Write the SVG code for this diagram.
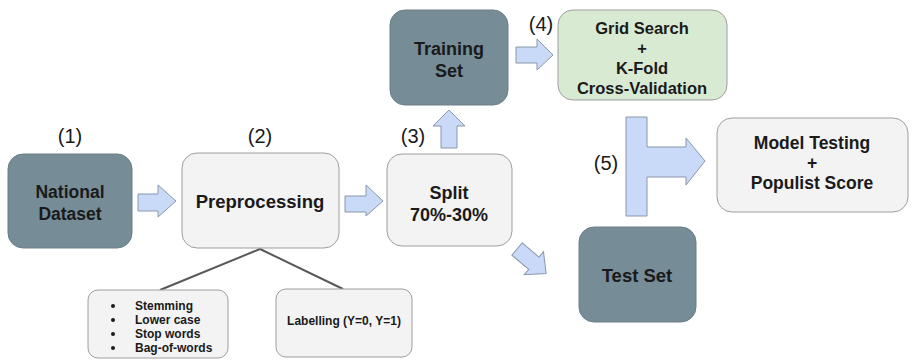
<svg xmlns="http://www.w3.org/2000/svg" width="912" height="364" viewBox="0 0 912 364">
<style>
.dark{fill:#768c97;stroke:#6a7e88;stroke-width:1}
.light{fill:#f3f3f3;stroke:#9e9e9e;stroke-width:1}
.green{fill:#d9ead3;stroke:#9e9e9e;stroke-width:1}
.arr{fill:#c9daf8;stroke:#8a96aa;stroke-width:1}
.t{font-family:"Liberation Sans",Arial,sans-serif;font-weight:bold;fill:#1a1a1a;text-anchor:middle}
.n{font-family:"Liberation Sans",Arial,sans-serif;fill:#1a1a1a;text-anchor:middle;font-size:20px}
.s{font-family:"Liberation Sans",Arial,sans-serif;font-weight:bold;fill:#1a1a1a;font-size:12px}
.ln{stroke:#595959;stroke-width:2;fill:none}
</style>
<rect width="912" height="364" fill="#ffffff"/>
<g id="connectors">
<path class="arr" d="M138,194 H158 V185 L176,201 L158,217 V211 H138 Z"/>
<path class="arr" d="M345,196 H366 V185 L383,201 L366,216 V212 H345 Z"/>
<path class="arr" d="M441,148 V126 H433 L449,110 L465,126 H457 V148 Z"/>
<path class="arr" d="M516,47 H537 V39 L553,55 L537,70 V63 H516 Z"/>
<path class="arr" d="M0,-8 H22 V-15 L38,0 L22,15 V8 H0 Z" transform="translate(517,249) rotate(40)"/>
<path class="arr" d="M626,117 H647 V147 H686 V138 L705,161 L686,185 V177 H647 V216 H626 Z"/>
<line class="ln" x1="260" y1="249" x2="160" y2="290"/>
<line class="ln" x1="260" y1="249" x2="343" y2="289"/>
</g>
<g id="label1"><text class="n" x="70" y="143">(1)</text></g>
<g id="label2"><text class="n" x="260" y="143">(2)</text></g>
<g id="label3"><text class="n" x="413" y="143">(3)</text></g>
<g id="label4"><text class="n" x="541" y="31">(4)</text></g>
<g id="label5"><text class="n" x="606" y="170">(5)</text></g>
<g id="national-dataset">
<rect class="dark" x="8" y="154" width="124" height="94" rx="15"/>
<text class="t" x="70" y="198" font-size="17.5">National</text>
<text class="t" x="70" y="220" font-size="17.5">Dataset</text>
</g>
<g id="preprocessing">
<rect class="light" x="182" y="153" width="157" height="95" rx="15"/>
<text class="t" x="260" y="208" font-size="18.5">Preprocessing</text>
</g>
<g id="split">
<rect class="light" x="387" y="154" width="125" height="92" rx="15"/>
<text class="t" x="449" y="199" font-size="18">Split</text>
<text class="t" x="449" y="221" font-size="18">70%-30%</text>
</g>
<g id="training-set">
<rect class="dark" x="390" y="10" width="118" height="95" rx="15"/>
<text class="t" x="449" y="55" font-size="18">Training</text>
<text class="t" x="449" y="77" font-size="18">Set</text>
</g>
<g id="grid-search">
<rect class="green" x="558" y="10" width="169" height="90" rx="15"/>
<text class="t" x="642" y="34" font-size="16.5">Grid Search</text>
<text class="t" x="642" y="54" font-size="16.5">+</text>
<text class="t" x="642" y="74" font-size="16.5">K-Fold</text>
<text class="t" x="642" y="94" font-size="16.5">Cross-Validation</text>
</g>
<g id="model-testing">
<rect class="light" x="717" y="118" width="191" height="94" rx="15"/>
<text class="t" x="812" y="149" font-size="17.5">Model Testing</text>
<text class="t" x="812" y="169" font-size="17.5">+</text>
<text class="t" x="812" y="189" font-size="17.5">Populist Score</text>
</g>
<g id="test-set">
<rect class="dark" x="579" y="227" width="117" height="95" rx="15"/>
<text class="t" x="637" y="282" font-size="18.5">Test Set</text>
</g>
<g id="preprocessing-steps">
<rect class="light" x="88" y="290" width="140" height="68" rx="10"/>
<circle cx="113" cy="306" r="2" fill="#1a1a1a"/>
<circle cx="113" cy="320" r="2" fill="#1a1a1a"/>
<circle cx="113" cy="334" r="2" fill="#1a1a1a"/>
<circle cx="113" cy="348" r="2" fill="#1a1a1a"/>
<text class="s" x="135" y="310">Stemming</text>
<text class="s" x="135" y="324">Lower case</text>
<text class="s" x="135" y="338">Stop words</text>
<text class="s" x="135" y="352">Bag-of-words</text>
</g>
<g id="labelling">
<rect class="light" x="276" y="289" width="136" height="68" rx="10"/>
<text class="s" x="344" y="325" text-anchor="middle" font-size="11.5">Labelling (Y=0, Y=1)</text>
</g>
</svg>
